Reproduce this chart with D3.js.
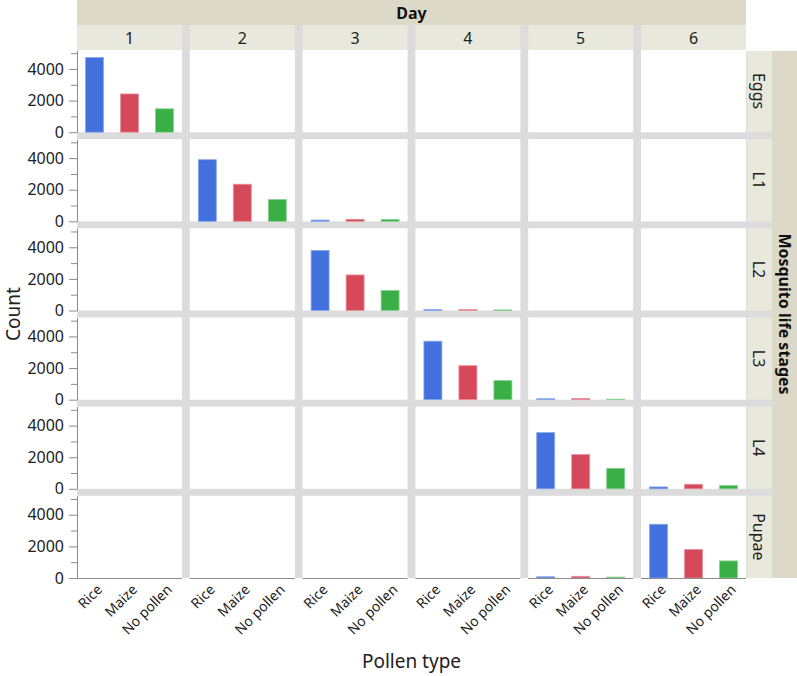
<!DOCTYPE html>
<html>
<head>
<meta charset="utf-8">
<script src="https://cdn.jsdelivr.net/npm/d3@7"></script>
<style>
  body { margin: 0; background: #fff; }
  svg { font-family: "Noto Sans", "Open Sans", sans-serif; }
</style>
</head>
<body>
<div id="chart"></div>
<script>
const width = 797, height = 676;

// Data
const days = ["1", "2", "3", "4", "5", "6"];
const stages = ["Eggs", "L1", "L2", "L3", "L4", "Pupae"];
const pollenTypes = ["Rice", "Maize", "No pollen"];

// rows = stages, columns = days (null = no bar)
const riceCounts = [
    [4730, null, null, null, null, null],
    [null, 3900, 80, null, null, null],
    [null, null, 3800, 60, null, null],
    [null, null, null, 3700, 60, null],
    [null, null, null, null, 3560, 120],
    [null, null, null, null, 80, 3400]
];
const maizeCounts = [
    [2420, null, null, null, null, null],
    [null, 2350, 130, null, null, null],
    [null, null, 2250, 60, null, null],
    [null, null, null, 2150, 80, null],
    [null, null, null, null, 2170, 290],
    [null, null, null, null, 110, 1810]
];
const noPollenCounts = [
    [1480, null, null, null, null, null],
    [null, 1380, 120, null, null, null],
    [null, null, 1270, 40, null, null],
    [null, null, null, 1210, 30, null],
    [null, null, null, null, 1300, 210],
    [null, null, null, null, 60, 1080]
];
const majorTicks = [0, 2000, 4000];
const minorTicks = [1000, 3000, 5000];
const yMax = 5200;

const seriesCounts = [riceCounts, maizeCounts, noPollenCounts];
const colors = ["#4270dd", "#d5495b", "#3aaf45"];
const strokes = ["#8aa8ee", "#e8929d", "#8bd293"];

// Layout
const plotLeft = 77, plotRight = 746, plotTop = 50, plotBottom = 578;
const stripRight = 772;

const svg = d3.select("#chart")
    .append("svg")
    .attr("width", width)
    .attr("height", height);

const colX = d3.scaleBand()
    .domain(days)
    .range([plotLeft, plotRight])
    .paddingInner(0.069);

const rowY = d3.scaleBand()
    .domain(stages)
    .range([plotTop, plotBottom])
    .paddingInner(0.078);

const x = d3.scaleBand()
    .domain(pollenTypes)
    .range([0, colX.bandwidth()]);

const y = d3.scaleLinear()
    .domain([0, yMax])
    .range([rowY.bandwidth(), 0]);

const barWidth = 18;

// Grey frame behind panels (gaps)
svg.append("rect")
    .attr("x", plotLeft)
    .attr("y", 25)
    .attr("width", plotRight - plotLeft)
    .attr("height", plotBottom - 25)
    .attr("fill", "#dcdcdc");

svg.append("rect")
    .attr("x", plotRight)
    .attr("y", 51)
    .attr("width", stripRight - plotRight)
    .attr("height", plotBottom - 51)
    .attr("fill", "#dcdcdc");

// "Day" header
svg.append("rect")
    .attr("x", plotLeft)
    .attr("y", 0)
    .attr("width", plotRight - plotLeft)
    .attr("height", 25)
    .attr("fill", "#dcd9c8");

svg.append("text")
    .attr("x", (plotLeft + plotRight) / 2)
    .attr("y", 13)
    .attr("dy", "0.35em")
    .attr("text-anchor", "middle")
    .style("font-size", "16px")
    .style("font-weight", "bold")
    .attr("fill", "#111")
    .text("Day");

// Day labels
svg.selectAll("rect.day")
    .data(days)
    .join("rect")
    .attr("class", "day")
    .attr("x", d => colX(d))
    .attr("y", 25)
    .attr("width", colX.bandwidth())
    .attr("height", plotTop - 25)
    .attr("fill", "#e9e8dd");

svg.selectAll("text.day")
    .data(days)
    .join("text")
    .attr("class", "day")
    .attr("x", d => colX(d) + colX.bandwidth() / 2)
    .attr("y", 38)
    .attr("dy", "0.35em")
    .attr("text-anchor", "middle")
    .style("font-size", "16px")
    .attr("fill", "#222")
    .text(d => d);

// Stage labels (right strip)
svg.selectAll("rect.stage")
    .data(stages)
    .join("rect")
    .attr("class", "stage")
    .attr("x", plotRight + 1)
    .attr("y", (d, i) => i === 0 ? rowY(d) + 1 : rowY(d))
    .attr("width", stripRight - plotRight - 1)
    .attr("height", (d, i) => i === 0 ? rowY.bandwidth() - 1 : rowY.bandwidth())
    .attr("fill", "#e9e8dd");

svg.selectAll("text.stage")
    .data(stages)
    .join("text")
    .attr("class", "stage")
    .attr("transform", d => `translate(${(plotRight + stripRight) / 2},${rowY(d) + rowY.bandwidth() / 2}) rotate(90)`)
    .attr("dy", "0.35em")
    .attr("text-anchor", "middle")
    .style("font-size", "16px")
    .attr("fill", "#222")
    .text(d => d);

svg.append("rect")
    .attr("x", stripRight)
    .attr("y", 51)
    .attr("width", width - stripRight)
    .attr("height", plotBottom - 51)
    .attr("fill", "#dcd9c8");

svg.append("text")
    .attr("transform", `translate(${(stripRight + width) / 2},${(plotTop + plotBottom) / 2}) rotate(90)`)
    .attr("dy", "0.35em")
    .attr("text-anchor", "middle")
    .style("font-size", "16px")
    .style("font-weight", "bold")
    .attr("fill", "#111")
    .text("Mosquito life stages");

// Panels
stages.forEach((stage, si) => {
    const row = svg.append("g")
        .attr("transform", `translate(0,${rowY(stage)})`);

    days.forEach((day, di) => {
        const panel = row.append("g")
            .attr("transform", `translate(${colX(day)},0)`);

        panel.append("rect")
            .attr("width", colX.bandwidth())
            .attr("height", rowY.bandwidth())
            .attr("fill", "#fff");

        const cells = pollenTypes
            .map((p, pi) => ({ p, pi, v: seriesCounts[pi][si][di] }))
            .filter(d => d.v != null);

        panel.selectAll("rect.bar")
            .data(cells)
            .join("rect")
            .attr("class", "bar")
            .attr("x", d => x(d.p) + (x.bandwidth() - barWidth) / 2)
            .attr("y", d => y(d.v))
            .attr("width", barWidth)
            .attr("height", d => y(0) - y(d.v))
            .attr("fill", d => colors[d.pi])
            .attr("stroke", d => strokes[d.pi])
            .attr("stroke-width", 0.8);
    });

    // Y axis, major ticks
    const ax = row.append("g")
        .attr("transform", `translate(${plotLeft},0)`)
        .call(d3.axisLeft(y).tickValues(majorTicks).tickSize(8).tickSizeOuter(0).tickPadding(5).tickFormat(d3.format("d")));
    ax.select(".domain").attr("stroke", "#8c8c8c");
    ax.selectAll(".tick line").attr("stroke", "#8c8c8c");
    ax.selectAll(".tick text")
        .style("font-size", "16px")
        .style("font-family", "'Noto Sans', sans-serif")
        .attr("fill", "#222");

    // minor ticks
    const axm = row.append("g")
        .attr("transform", `translate(${plotLeft},0)`)
        .call(d3.axisLeft(y).tickValues(minorTicks).tickSize(6).tickSizeOuter(0).tickFormat(""));
    axm.select(".domain").remove();
    axm.selectAll(".tick line").attr("stroke", "#8c8c8c");
});

// X axis lines under bottom row and pollen labels
svg.selectAll("line.xaxis")
    .data(days)
    .join("line")
    .attr("class", "xaxis")
    .attr("x1", d => colX(d))
    .attr("x2", d => colX(d) + colX.bandwidth())
    .attr("y1", plotBottom + 0.5)
    .attr("y2", plotBottom + 0.5)
    .attr("stroke", "#8c8c8c");

days.forEach(day => {
    svg.append("g")
        .selectAll("text")
        .data(pollenTypes)
        .join("text")
        .attr("transform", p => `translate(${colX(day) + x(p) + x.bandwidth() / 2 + 5},${plotBottom + 9}) rotate(-45)`)
        .attr("dy", "0.35em")
        .attr("text-anchor", "end")
        .style("font-size", "14px")
        .attr("fill", "#222")
        .text(p => p);
});

// Axis titles
svg.append("text")
    .attr("transform", `translate(13,${(plotTop + plotBottom) / 2}) rotate(-90)`)
    .attr("dy", "0.35em")
    .attr("text-anchor", "middle")
    .style("font-size", "19px")
    .attr("fill", "#222")
    .text("Count");

svg.append("text")
    .attr("x", (plotLeft + plotRight) / 2)
    .attr("y", 668)
    .attr("text-anchor", "middle")
    .style("font-size", "19px")
    .attr("fill", "#222")
    .text("Pollen type");
</script>
</body>
</html>
